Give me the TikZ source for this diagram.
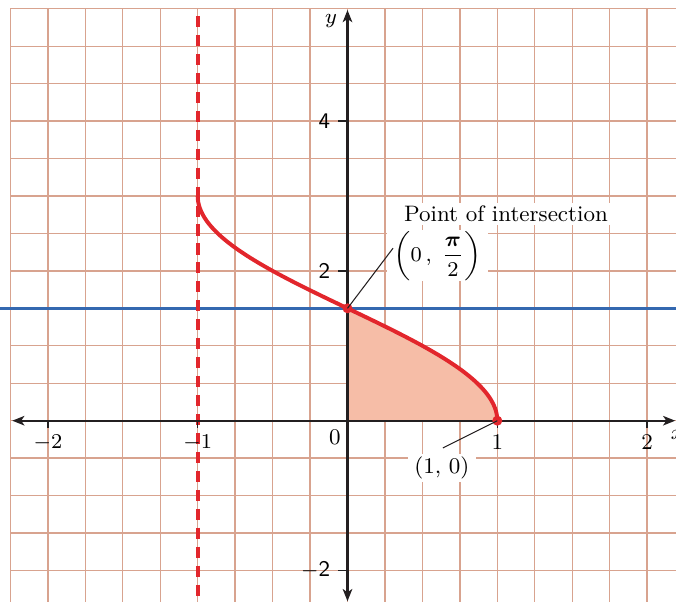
\documentclass[tikz,border=0pt]{standalone}
\usepackage{amsmath}
\usepackage{bm}
\usetikzlibrary{arrows.meta}
\definecolor{gridc}{RGB}{216,163,143}
\definecolor{curvec}{RGB}{226,38,44}
\definecolor{bluec}{RGB}{52,104,176}
\definecolor{shadec}{RGB}{246,189,167}
\definecolor{axisc}{RGB}{35,31,32}
\tikzset{
  gridline/.style={draw=gridc, line width=0.5pt},
  axisline/.style={draw=axisc, line width=0.9pt},
  axisarrows/.style={axisline, {Stealth[length=4.6pt,width=3.6pt,inset=1.2pt]}-{Stealth[length=4.6pt,width=3.6pt,inset=1.2pt]}},
  tickline/.style={draw=axisc, line width=0.6pt},
  curveline/.style={draw=curvec, line width=1.5pt},
  blueline/.style={draw=bluec, line width=1.3pt},
  asymline/.style={draw=curvec, line width=1.5pt, dash pattern=on 4.2pt off 3pt},
  dotnode/.style={circle, fill=curvec, inner sep=0pt, minimum size=3.8pt},
  leader/.style={draw=axisc, line width=0.4pt},
  whitelabel/.style={fill=white, inner xsep=2.5pt, inner ysep=1.2pt},
  ticklab/.style={inner sep=1pt},
  sanslab/.style={ticklab, anchor=east, font=\sffamily\fontsize{8.5}{10}\selectfont},
}
\begin{document}
\begin{tikzpicture}[x=2cm,y=1cm,font=\fontsize{8.5}{10}\selectfont]
\useasboundingbox (-2.3198,-2.4206) rectangle (2.1929,5.6168);
% grid
\foreach \i in {-9,...,8} \draw[gridline] (\i*0.25,-2.4206) -- (\i*0.25,5.5);
\foreach \j in {-4,...,11} \draw[gridline] (-2.25,\j*0.5) -- (2.1929,\j*0.5);
% shaded region
\fill[shadec] (0,0) -- plot[domain=0:90, samples=60, variable=\t] ({cos(\t)},{\t/60}) -- cycle;
% horizontal line y = pi/2
\coordinate (bl) at (-2.3198,1.5);
\coordinate (br) at (2.1929,1.5);
\draw[blueline] (bl) -- (br);
% dashed line x = -1
\coordinate (dt) at (-1,5.403);
\coordinate (db) at (-1,-2.4206);
\draw[asymline] (dt) -- (db);
% axes
\coordinate (xl) at (-2.238,0);
\coordinate (xr) at (2.188,0);
\coordinate (yb) at (0,-2.41);
\coordinate (yt) at (0,5.483);
\draw[axisarrows] (xl) -- (xr);
\draw[axisarrows] (yb) -- (yt);
% ticks
\foreach \x in {-2,-1,1,2} \draw[tickline] (\x,0) -- (\x,-0.1);
\foreach \y in {-2,2,4} \draw[tickline] (0,\y) -- (-0.065,\y);
% tick labels
\node[ticklab] (lxm2) at (-2,-0.29) {$-2$};
\node[ticklab] (lxm1) at (-1,-0.29) {$-1$};
\node[ticklab] (lx1) at (1,-0.29) {1};
\node[ticklab] (lx2) at (2,-0.29) {2};
\node[ticklab] (l0) at (-0.085,-0.22) {0};
\node[inner sep=0pt, anchor=west] (lx) at (2.155,-0.19) {$x$};
\node[ticklab] (ly) at (-0.11,5.34) {$y$};
\node[sanslab] (ly4) at (-0.095,4) {4};
\node[sanslab] (ly2) at (-0.095,2) {2};
\node[sanslab] (lym2) at (-0.095,-2) {$-$2};
% curve
\draw[curveline] plot[domain=0:180, samples=150, variable=\t] ({cos(\t)},{\t/60});
% labels and leaders
\node[whitelabel] (lpoi) at (1.058,2.76) {Point of intersection};
\node[whitelabel, inner ysep=0.3pt, font=\fontsize{7.8}{9}\selectfont] (lpi) at (0.6,2.2) {$\left(0\,,\;\dfrac{\bm{\pi}}{2}\right)$};
\node[whitelabel] (l10) at (0.63,-0.63) {(1, 0)};
\coordinate (pa) at (0.304,2.303);
\coordinate (qa) at (0.637,-0.364);
\node[dotnode] (P) at (0,1.5) {};
\node[dotnode] (Q) at (1,0) {};
\draw[leader] (P.center) -- (pa);
\draw[leader] (Q.center) -- (qa);
\end{tikzpicture}
\end{document}
